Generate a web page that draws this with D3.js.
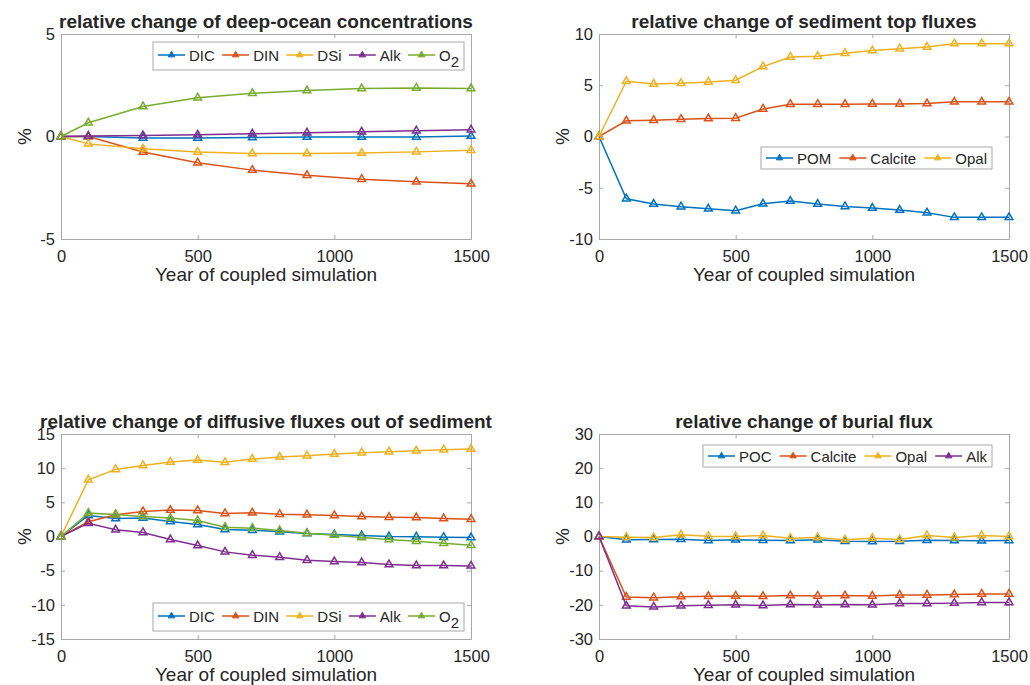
<!DOCTYPE html>
<html>
<head>
<meta charset="utf-8">
<script src="https://cdn.jsdelivr.net/npm/d3@7"></script>
<style>
  body { margin: 0; background: #fff; }
  svg text { font-family: "Liberation Sans", Arial, Helvetica, sans-serif; fill: #262626; }
</style>
</head>
<body>
<svg id="chart" width="1030" height="685"></svg>
<script>
// years of the coupled run
var yearsA = [0, 100, 300, 500, 700, 900, 1100, 1300, 1500];
var yearsB = [0, 100, 200, 300, 400, 500, 600, 700, 800, 900, 1000, 1100, 1200, 1300, 1400, 1500];
var xTicks = [0, 500, 1000, 1500];

// panel 1: deep-ocean concentrations (%)
var deepDIC = [0, 0, -0.07, -0.07, -0.05, -0.03, -0.03, -0.02, 0.02];
var deepDIN = [0, 0, -0.76, -1.28, -1.64, -1.89, -2.08, -2.21, -2.31];
var deepDSi = [0, -0.36, -0.6, -0.76, -0.83, -0.83, -0.81, -0.75, -0.67];
var deepAlk = [0, 0.02, 0.05, 0.08, 0.13, 0.18, 0.23, 0.28, 0.33];
var deepO2 = [0, 0.67, 1.46, 1.89, 2.11, 2.24, 2.34, 2.37, 2.34];

// panel 2: sediment top fluxes (%)
var topPOM = [0, -6.07, -6.59, -6.85, -7.05, -7.24, -6.56, -6.3, -6.59, -6.82, -6.98, -7.18, -7.44, -7.89, -7.89, -7.89];
var topCalcite = [0, 1.53, 1.59, 1.69, 1.75, 1.79, 2.69, 3.15, 3.15, 3.15, 3.18, 3.18, 3.21, 3.38, 3.38, 3.38];
var topOpal = [0, 5.39, 5.13, 5.19, 5.32, 5.49, 6.82, 7.76, 7.82, 8.12, 8.38, 8.57, 8.73, 9.06, 9.06, 9.06];

// panel 3: diffusive fluxes out of sediment (%)
var difDIC = [0, 3.08, 2.64, 2.69, 2.2, 1.76, 1.03, 0.93, 0.68, 0.44, 0.29, 0.15, 0, -0.05, -0.1, -0.15];
var difDIN = [0, 2.15, 3.18, 3.66, 3.86, 3.81, 3.37, 3.47, 3.27, 3.18, 3.08, 2.93, 2.83, 2.78, 2.64, 2.54];
var difDSi = [0, 8.3, 9.82, 10.4, 10.9, 11.19, 10.85, 11.33, 11.63, 11.82, 12.07, 12.26, 12.41, 12.55, 12.7, 12.8];
var difAlk = [0, 1.95, 0.98, 0.59, -0.44, -1.32, -2.25, -2.74, -3.03, -3.47, -3.66, -3.81, -4.1, -4.25, -4.25, -4.3];
var difO2 = [0, 3.42, 3.22, 2.93, 2.69, 2.34, 1.37, 1.22, 0.88, 0.49, 0.2, -0.15, -0.44, -0.68, -0.98, -1.27];

// panel 4: burial flux (%)
var burPOC = [0, -0.98, -0.88, -0.78, -1.17, -0.98, -1.08, -1.17, -0.98, -1.37, -1.47, -1.37, -1.08, -1.17, -1.27, -1.17];
var burCalcite = [0, -17.7, -17.9, -17.6, -17.5, -17.4, -17.5, -17.3, -17.4, -17.3, -17.4, -17.1, -17.1, -17.0, -16.8, -16.8];
var burOpal = [0, -0.2, -0.3, 0.49, 0.1, 0, 0.29, -0.49, -0.29, -0.98, -0.49, -0.88, 0.29, -0.29, 0.29, 0];
var burAlk = [0, -20.3, -20.6, -20.3, -20.1, -20.0, -20.2, -19.9, -20.0, -19.9, -20.0, -19.6, -19.6, -19.5, -19.3, -19.3];

// MATLAB default line colours
var colors = ["#0072BD", "#D95319", "#EDB120", "#7E2F8E", "#77AC30"];

var panels = [
  { title: "relative change of deep-ocean concentrations", left: 61, top: 34, yMin: -5, yMax: 5, yTicks: [-5, 0, 5],
    years: yearsA, names: ["DIC", "DIN", "DSi", "Alk", "O2"], series: [deepDIC, deepDIN, deepDSi, deepAlk, deepO2],
    legLeft: 153, legRight: 464, legTop: 42 },
  { title: "relative change of sediment top fluxes", left: 599, top: 34, yMin: -10, yMax: 10, yTicks: [-10, -5, 0, 5, 10],
    years: yearsB, names: ["POM", "Calcite", "Opal"], series: [topPOM, topCalcite, topOpal],
    legLeft: 761, legRight: 992, legTop: 147 },
  { title: "relative change of diffusive fluxes out of sediment", left: 61, top: 434, yMin: -15, yMax: 15, yTicks: [-15, -10, -5, 0, 5, 10, 15],
    years: yearsB, names: ["DIC", "DIN", "DSi", "Alk", "O2"], series: [difDIC, difDIN, difDSi, difAlk, difO2],
    legLeft: 153, legRight: 464, legTop: 603 },
  { title: "relative change of burial flux", left: 599, top: 434, yMin: -30, yMax: 30, yTicks: [-30, -20, -10, 0, 10, 20, 30],
    years: yearsB, names: ["POC", "Calcite", "Opal", "Alk"], series: [burPOC, burCalcite, burOpal, burAlk],
    legLeft: 703, legRight: 992, legTop: 445 }
];

var W = 410, H = 205;
var svg = d3.select("#chart");
var axisColor = "#a8a8a8";

// open triangle marker
var tri = d3.symbol().type(d3.symbolTriangle).size(26);
var plain = function(d) { return String(d).replace("\u2212", "-"); };

function label(sel, name, size) {
  //O2 gets a subscript
  if (name === "O2") {
    sel.text("O");
    sel.append("tspan").attr("dy", 6).style("font-size", size + "px").text("2");
  } else {
    sel.text(name);
  }
}

panels.forEach(function(p) {
  var x = d3.scaleLinear().domain([0, 1500]).range([0, W]);
  var y = d3.scaleLinear().domain([p.yMin, p.yMax]).range([H, 0]);
  var g = svg.append("g").attr("transform", "translate(" + p.left + "," + p.top + ")");

  // axes box with inward ticks on all four sides
  var bottom = g.append("g").attr("transform", "translate(0," + H + ")")
    .call(d3.axisBottom(x).tickValues(xTicks).tickSizeInner(-4).tickSizeOuter(0).tickFormat(plain));
  var top = g.append("g")
    .call(d3.axisTop(x).tickValues(xTicks).tickSizeInner(-4).tickSizeOuter(0).tickFormat(""));
  var left = g.append("g")
    .call(d3.axisLeft(y).tickValues(p.yTicks).tickSizeInner(-4).tickSizeOuter(0).tickPadding(6).tickFormat(plain));
  var right = g.append("g").attr("transform", "translate(" + W + ",0)")
    .call(d3.axisRight(y).tickValues(p.yTicks).tickSizeInner(-4).tickSizeOuter(0).tickFormat(""));
  [bottom, top, left, right].forEach(function(a) {
    a.select(".domain").attr("stroke", axisColor);
    a.selectAll(".tick line").attr("stroke", axisColor);
    a.selectAll("text").style("font-size", "16.5px").attr("fill", "#262626");
  });
  bottom.selectAll("text").attr("dy", "0.71em").attr("y", 11);

  // series
  var line = d3.line().x(function(d, i) { return x(p.years[i]); }).y(function(d) { return y(d); });
  p.series.forEach(function(s, k) {
    g.append("path").datum(s)
      .attr("d", line).attr("fill", "none")
      .attr("stroke", colors[k]).attr("stroke-width", 1.5);
    g.selectAll(".m" + k).data(s).enter().append("path")
      .attr("class", "m" + k)
      .attr("d", tri)
      .attr("transform", function(d, i) { return "translate(" + x(p.years[i]) + "," + y(d) + ")"; })
      .attr("fill", "none").attr("stroke", colors[k]).attr("stroke-width", 1.5);
  });

  // titles and axis labels
  svg.append("text").attr("x", p.left + W / 2).attr("y", p.top - 6)
    .attr("text-anchor", "middle").style("font-size", "19px").style("font-weight", "bold")
    .attr("fill", "#000").text(p.title);
  svg.append("text").attr("x", p.left + W / 2).attr("y", p.top + H + 42)
    .attr("text-anchor", "middle").style("font-size", "19px").text("Year of coupled simulation");
  svg.append("text")
    .attr("transform", "translate(" + (p.left - 30) + "," + (p.top + H / 2) + ") rotate(-90)")
    .attr("text-anchor", "middle").style("font-size", "19px").text("%");

  // legend, one row spread over the box
  var hasSub = p.names.indexOf("O2") >= 0;
  var legH = hasSub ? 28 : 22;
  var leg = svg.append("g");
  leg.append("rect").attr("x", p.legLeft).attr("y", p.legTop)
    .attr("width", p.legRight - p.legLeft).attr("height", legH)
    .attr("fill", "#fff").attr("stroke", "#a8a8a8").attr("stroke-width", 1);
  var items = [], widths = [];
  p.names.forEach(function(n, k) {
    var it = leg.append("g");
    it.append("line").attr("x1", 0).attr("x2", 27).attr("y1", 0).attr("y2", 0)
      .attr("stroke", colors[k]).attr("stroke-width", 1.5);
    it.append("path").attr("d", d3.symbol().type(d3.symbolTriangle).size(18)).attr("transform", "translate(13.5,0)")
      .attr("fill", colors[k]).attr("stroke", colors[k]).attr("stroke-width", 1);
    var t = it.append("text").attr("x", 31).attr("y", 5.5).style("font-size", "15px");
    label(t, n, 15);
    widths.push(31 + t.node().getComputedTextLength());
    items.push(it);
  });
  var gap = (p.legRight - p.legLeft - 10 - d3.sum(widths)) / (items.length - 1);
  var cx = p.legLeft + 5;
  items.forEach(function(it, k) {
    it.attr("transform", "translate(" + cx + "," + (p.legTop + (hasSub ? 13 : 11)) + ")");
    cx += widths[k] + gap;
  });
});
</script>
</body>
</html>
